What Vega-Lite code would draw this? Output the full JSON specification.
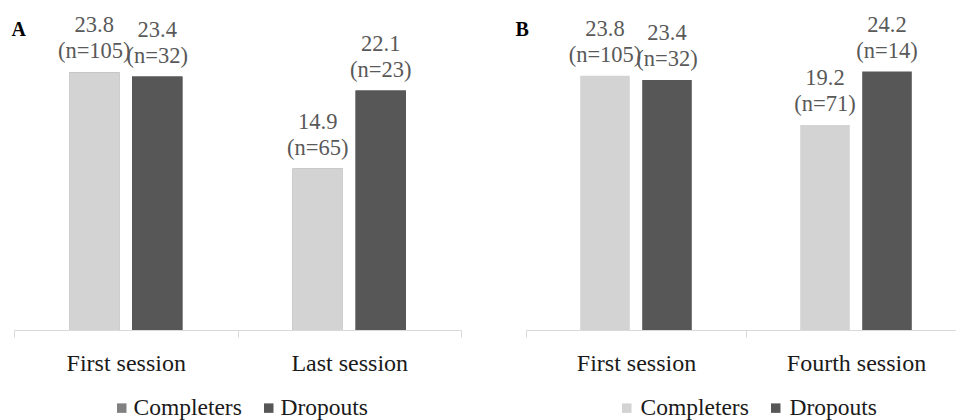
{
  "$schema": "https://vega.github.io/schema/vega-lite/v6.json",
  "background": "white",
  "padding": {"left": 11, "top": 5, "right": -10, "bottom": 0},
  "spacing": 53,
  "config": {
    "view": {"stroke": null},
    "font": "Liberation Serif"
  },
  "resolve": {
    "scale": {"color": "independent", "fill": "independent", "x": "independent", "y": "independent", "xOffset": "independent"},
    "legend": {"color": "independent", "fill": "independent"}
  },
  "hconcat": [
    {
      "width": 447,
      "height": 325,
      "data": {"values": [
        {"session": "First session", "group": "Completers", "value": 23.8, "label": "23.8\n(n=105)"},
        {"session": "First session", "group": "Dropouts", "value": 23.4, "label": "23.4\n(n=32)"},
        {"session": "Last session", "group": "Completers", "value": 14.9, "label": "14.9\n(n=65)"},
        {"session": "Last session", "group": "Dropouts", "value": 22.1, "label": "22.1\n(n=23)"}
      ]},
      "encoding": {
        "x": {"field": "session", "type": "nominal", "sort": ["First session", "Last session"],
          "scale": {"paddingInner": 0, "paddingOuter": 0},
          "axis": {"title": null, "labelAngle": 0, "domainColor": "#d9d9d9", "tickColor": "#d9d9d9", "tickSize": 7, "tickBand": "extent", "labelFont": "Liberation Serif", "labelFontSize": 24, "labelColor": "#1a1a1a", "labelPadding": 14, "labelBaseline": "top"}},
        "xOffset": {"field": "group", "type": "nominal", "sort": ["Completers", "Dropouts"],
          "scale": {"paddingInner": 0.2, "paddingOuter": 0.874, "align": 0.5}},
        "y": {"field": "value", "type": "quantitative", "scale": {"domain": [0, 30], "nice": false},
          "axis": {"domain": false, "ticks": false, "labels": false, "grid": false, "title": "A", "titleAngle": 0, "titleX": -3, "titleY": 30, "titleAlign": "left", "titleBaseline": "alphabetic", "titleFont": "Liberation Serif", "titleFontSize": 20, "titleFontWeight": "bold", "titleColor": "#000000"}}
      },
      "layer": [
        {
          "mark": {"type": "bar"},
          "encoding": {
            "fill": {"field": "group", "type": "nominal", "sort": ["Completers", "Dropouts"],
              "scale": {"domain": ["Completers", "Dropouts"], "range": ["#808080", "#575757"]},
              "legend": {"orient": "none", "legendX": 96, "legendY": 391, "direction": "horizontal", "title": null,
                "symbolType": "square", "symbolSize": 90, "symbolStrokeWidth": 0, "labelFont": "Liberation Serif", "labelFontSize": 23.5, "labelColor": "#1a1a1a", "labelOffset": 0, "columnPadding": 15, "padding": 0}}
          }
        },
        {
          "mark": {"type": "bar"},
          "encoding": {
            "color": {"field": "group", "type": "nominal", "sort": ["Completers", "Dropouts"],
              "scale": {"domain": ["Completers", "Dropouts"], "range": ["#d3d3d3", "#575757"]},
              "legend": null}
          }
        },
        {
          "mark": {"type": "text", "font": "Liberation Serif", "fontSize": 22.5, "lineHeight": 26, "lineBreak": "\n", "baseline": "bottom", "align": "center", "dy": -35, "color": "#595959"},
          "encoding": {"text": {"field": "label"}}
        }
      ]
    },
    {
      "width": 440,
      "height": 325,
      "data": {"values": [
        {"session": "First session", "group": "Completers", "value": 23.8, "label": "23.8\n(n=105)"},
        {"session": "First session", "group": "Dropouts", "value": 23.4, "label": "23.4\n(n=32)"},
        {"session": "Fourth session", "group": "Completers", "value": 19.2, "label": "19.2\n(n=71)"},
        {"session": "Fourth session", "group": "Dropouts", "value": 24.2, "label": "24.2\n(n=14)"}
      ]},
      "encoding": {
        "x": {"field": "session", "type": "nominal", "sort": ["First session", "Fourth session"],
          "scale": {"paddingInner": 0, "paddingOuter": 0},
          "axis": {"title": null, "labelAngle": 0, "domainColor": "#d9d9d9", "tickColor": "#d9d9d9", "tickSize": 7, "tickBand": "extent", "labelFont": "Liberation Serif", "labelFontSize": 24, "labelColor": "#1a1a1a", "labelPadding": 14, "labelBaseline": "top"}},
        "xOffset": {"field": "group", "type": "nominal", "sort": ["Completers", "Dropouts"],
          "scale": {"paddingInner": 0.2, "paddingOuter": 0.874, "align": 0.5}},
        "y": {"field": "value", "type": "quantitative", "scale": {"domain": [0, 30.43], "nice": false},
          "axis": {"domain": false, "ticks": false, "labels": false, "grid": false, "title": "B", "titleAngle": 0, "titleX": -11, "titleY": 30, "titleAlign": "left", "titleBaseline": "alphabetic", "titleFont": "Liberation Serif", "titleFontSize": 20, "titleFontWeight": "bold", "titleColor": "#000000"}}
      },
      "layer": [
        {
          "mark": {"type": "bar"},
          "encoding": {
            "color": {"field": "group", "type": "nominal", "sort": ["Completers", "Dropouts"],
              "scale": {"domain": ["Completers", "Dropouts"], "range": ["#d3d3d3", "#575757"]},
              "legend": {"orient": "none", "legendX": 89, "legendY": 391, "direction": "horizontal", "title": null,
                "symbolType": "square", "symbolSize": 90, "symbolStrokeWidth": 0, "labelFont": "Liberation Serif", "labelFontSize": 23.5, "labelColor": "#1a1a1a", "labelOffset": 2, "columnPadding": 15, "padding": 0}}
          }
        },
        {
          "mark": {"type": "text", "font": "Liberation Serif", "fontSize": 22.5, "lineHeight": 26, "lineBreak": "\n", "baseline": "bottom", "align": "center", "dy": -35, "color": "#595959"},
          "encoding": {"text": {"field": "label"}}
        }
      ]
    }
  ]
}
